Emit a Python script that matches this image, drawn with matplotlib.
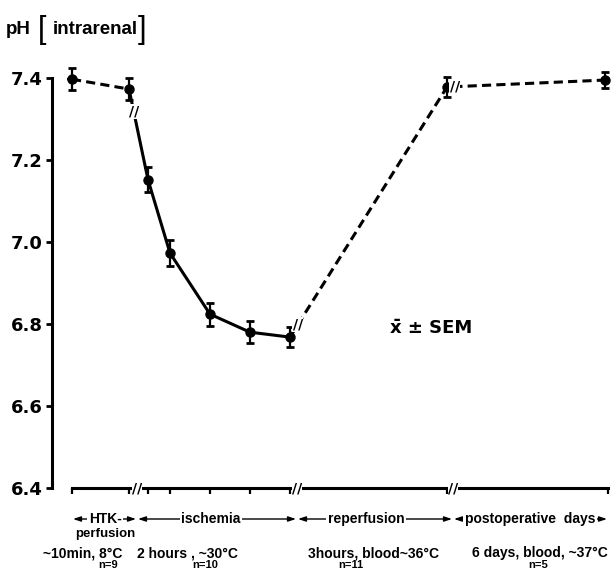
import matplotlib
matplotlib.use("Agg")
import matplotlib.pyplot as plt
import matplotlib.transforms as mtransforms

# time-axis positions (arbitrary segmented scale), pH means and SEM
x_pos = [0, 57, 76, 98, 138, 178, 218, 375, 533]
ph = [7.397, 7.373, 7.152, 6.973, 6.824, 6.780, 6.768, 7.378, 7.395]
sem = [0.027, 0.026, 0.030, 0.032, 0.028, 0.027, 0.025, 0.024, 0.020]
x_err_first = 5

# phase boundaries on the time axis (break marks)
phase_bounds = [0, 65, 225, 381, 536]
phase_labels = ["HTK-", "ischemia", "reperfusion", "postoperative  days"]
phase_label_x = [33, 139, 294, 458]

cond_labels = ["~10min, 8°C", "2 hours , ~30°C", "3hours, blood~36°C", "6 days, blood, ~37°C"]
cond_x = [11, 115, 302, 468]
n_labels = ["n=9", "n=10", "n=11", "n=5"]
n_x = [36, 133, 279, 466]

yticks = [6.4, 6.6, 6.8, 7.0, 7.2, 7.4]

W, H = 611, 571
fig = plt.figure(figsize=(W / 100, H / 100), dpi=100)
ax = fig.add_axes([52 / W, 1 - 488 / H, (608 - 52) / W, (488 - 57.5) / H])
ax.set_xlim(-20, 536)
ax.set_ylim(6.4, 7.45)

lw = 2.2
dash = (0, (3, 1.7))
ax.plot(x_pos[0:2], ph[0:2], color="black", lw=lw, linestyle=dash, clip_on=False)
ax.plot(x_pos[1:7], ph[1:7], color="black", lw=lw, solid_capstyle="round", clip_on=False)
ax.plot(x_pos[6:9], ph[6:9], color="black", lw=lw, linestyle=dash, clip_on=False)

ax.errorbar(x_pos, ph, yerr=sem, fmt="o", color="black", ms=6.5, elinewidth=1.6,
            capsize=3.2, capthick=2, clip_on=False, zorder=5)
ax.errorbar(x_pos[0], ph[0], xerr=x_err_first, fmt="none", ecolor="black",
            elinewidth=1.6, capsize=0, clip_on=False, zorder=5)

# break marks on the curve
for i, frac in [(1, 0.25), (6, 0.05), (7, 0.05)]:
    bx = x_pos[i] + frac * (x_pos[i + 1] - x_pos[i])
    by = ph[i] + frac * (ph[i + 1] - ph[i])
    ax.text(bx, by, "//", ha="center", va="center", fontsize=10, fontweight="bold",
            bbox=dict(facecolor="white", edgecolor="none", pad=0.3), zorder=6)

# axes styling
for s in ["top", "right"]:
    ax.spines[s].set_visible(False)
ax.spines["left"].set_linewidth(2.2)
ax.spines["bottom"].set_linewidth(2.2)
ax.spines["left"].set_bounds(6.4, 7.4)
ax.spines["bottom"].set_bounds(0, 536)
ax.set_yticks(yticks)
ax.set_yticklabels([f"{v:.1f}" for v in yticks], fontsize=13, fontweight="bold",
                   family="DejaVu Sans")
ax.tick_params(axis="y", direction="out", length=4.5, width=2, pad=2)
ax.set_xticks(x_pos[:-1] + [536])
ax.set_xticklabels([])
ax.tick_params(axis="x", direction="out", length=4, width=1.6)

for b in phase_bounds[1:-1]:
    ax.text(b, 6.4, "//", ha="center", va="center", fontsize=10, fontweight="bold",
            bbox=dict(facecolor="white", edgecolor="none", pad=0.2), clip_on=False, zorder=6)

ax.text(359, 6.79, "x\u0304 ± SEM", ha="center", va="center", fontsize=13,
        fontweight="bold", family="DejaVu Sans")

# title
fig.text(6 / W, 1 - 30 / H, "pH", fontsize=13.5, fontweight="bold",
         family="Liberation Sans", va="center")
fig.text(38 / W, 1 - 30 / H, "[", fontsize=22, family="Liberation Sans", va="center")
fig.text(53 / W, 1 - 30 / H, "intrarenal", fontsize=13.5, fontweight="bold",
         family="Liberation Sans", va="center")
fig.text(138 / W, 1 - 30 / H, "]", fontsize=22, family="Liberation Sans", va="center")

# phase arrows and labels below the axis
trans = mtransforms.blended_transform_factory(ax.transData, fig.transFigure)
row1 = 1 - 519 / H
for i in range(len(phase_labels)):
    ax.annotate("", xy=(phase_bounds[i] + 1, row1), xytext=(phase_bounds[i + 1] - 1, row1),
                xycoords=trans, textcoords=trans,
                arrowprops=dict(arrowstyle="<|-|>,head_length=0.45,head_width=0.15",
                                lw=1, color="black", shrinkA=0, shrinkB=0))
    ax.text(phase_label_x[i], row1, phase_labels[i], transform=trans, ha="center",
            va="center", fontsize=10, fontweight="bold", family="Liberation Sans",
            bbox=dict(facecolor="white", edgecolor="none", pad=1.2), clip_on=False)
ax.text(phase_label_x[0], 1 - 534 / H, "perfusion", transform=trans, ha="center",
        va="center", fontsize=9.5, fontweight="bold", family="Liberation Sans", clip_on=False)

for lab, cx in zip(cond_labels, cond_x):
    ax.text(cx, 1 - 553 / H, lab, transform=trans, ha="center", va="center",
            fontsize=10, fontweight="bold", family="Liberation Sans", clip_on=False)
for lab, cx in zip(n_labels, n_x):
    ax.text(cx, 1 - 564.5 / H, lab, transform=trans, ha="center", va="center",
            fontsize=8, fontweight="bold", family="Liberation Sans", clip_on=False)

fig.savefig("out.png", dpi=100)
